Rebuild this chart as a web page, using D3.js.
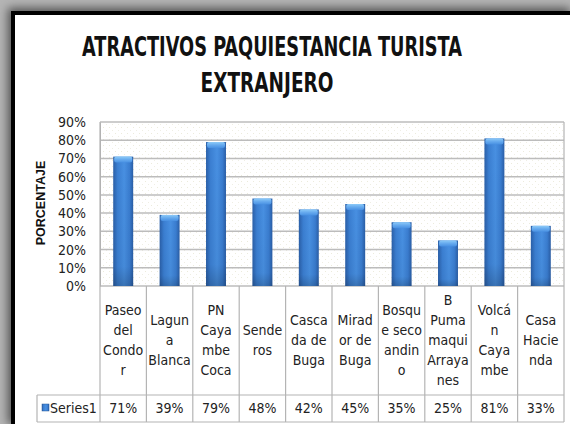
<!DOCTYPE html>
<html><head><meta charset="utf-8">
<script src="https://cdn.jsdelivr.net/npm/d3@7"></script>
<style>
html,body{margin:0;padding:0;background:#fff;overflow:hidden;}
svg{display:block;}
</style></head>
<body>
<script>
const titleLines = ["ATRACTIVOS PAQUIESTANCIA TURISTA", "EXTRANJERO"];
const yAxisTitle = "PORCENTAJE";
const seriesName = "Series1";
const categories = ["Paseo del Condor","Laguna Blanca","PN Cayambe Coca","Senderos","Cascada de Buga","Mirador de Buga","Bosque seco andino","B Pumamaqui Arrayanes","Volcán Cayambe","Casa Hacienda"];
const categoryLines = [
  ["Paseo","del","Condo","r"],
  ["Lagun","a","Blanca"],
  ["PN","Caya","mbe","Coca"],
  ["Sende","ros"],
  ["Casca","da de","Buga"],
  ["Mirad","or de","Buga"],
  ["Bosqu","e seco","andin","o"],
  ["B","Puma","maqui","Arraya","nes"],
  ["Volcá","n","Caya","mbe"],
  ["Casa","Hacie","nda"]
];
const values = [0.71,0.39,0.79,0.48,0.42,0.45,0.35,0.25,0.81,0.33];
const yTicks = [0,0.1,0.2,0.3,0.4,0.5,0.6,0.7,0.8,0.9];

const W = 570, H = 424;
const FONT = "'Liberation Sans Narrow','DejaVu Sans Condensed','Liberation Sans',sans-serif";
const plotL = 100, plotR = 564, plotT = 122, plotB = 286;
const rowTop = 395, rowBot = 422, legendL = 37;

const svg = d3.select("body").append("svg").attr("width", W).attr("height", H);
const defs = svg.append("defs");

const f = defs.append("filter").attr("id","sh").attr("x","-10%").attr("y","-10%").attr("width","120%").attr("height","120%");
f.append("feGaussianBlur").attr("stdDeviation", 5);

const pat = defs.append("pattern").attr("id","dots").attr("width",6).attr("height",6).attr("patternUnits","userSpaceOnUse");
pat.append("rect").attr("width",6).attr("height",6).attr("fill","#fff");
pat.append("rect").attr("x",1).attr("y",1).attr("width",1).attr("height",1).attr("fill","#ecebdc");
pat.append("rect").attr("x",4).attr("y",4).attr("width",1).attr("height",1).attr("fill","#efeee4");

const gH = defs.append("linearGradient").attr("id","barH").attr("x1","0").attr("x2","1").attr("y1","0").attr("y2","0");
[["0%","#2a5fa8"],["22%","#3b7fd2"],["55%","#4890e2"],["82%","#3a7dd0"],["100%","#2a5ea6"]].forEach(s=>gH.append("stop").attr("offset",s[0]).attr("stop-color",s[1]));
const gV = defs.append("linearGradient").attr("id","barV").attr("x1","0").attr("x2","0").attr("y1","0").attr("y2","1");
[["0%","#000","0"],["85%","#000","0.04"],["100%","#000","0.2"]].forEach(s=>gV.append("stop").attr("offset",s[0]).attr("stop-color",s[1]).attr("stop-opacity",s[2]));
const gCap = defs.append("linearGradient").attr("id","cap").attr("x1","0").attr("x2","0").attr("y1","0").attr("y2","1");
[["0%","#8ccaf8"],["50%","#66aaee"],["100%","#4890e2"]].forEach(s=>gCap.append("stop").attr("offset",s[0]).attr("stop-color",s[1]));

// frame
svg.append("rect").attr("width",W).attr("height",H).attr("fill","#b4b4b4");
svg.append("rect").attr("x",8).attr("y",8).attr("width",W-8).attr("height",H-8).attr("fill","#000").attr("opacity",0.55).attr("filter","url(#sh)");
svg.append("rect").attr("x",11).attr("y",11).attr("width",W-11).attr("height",H-11).attr("fill","#000");
svg.append("rect").attr("x",15).attr("y",15).attr("width",W-15).attr("height",H-15).attr("fill","#fff");

// fit a text to a target width by horizontal scaling
function fitText(sel, cx, cy, targetW, rotate) {
  const w = sel.node().getComputedTextLength();
  const s = Math.min(1, targetW / w);
  sel.attr("x", 0).attr("y", 0)
     .attr("transform", `translate(${cx},${cy})${rotate ? " rotate(-90)" : ""} scale(${s},1)`);
}

// title
const tt = svg.append("g").attr("font-family",FONT).attr("font-weight","bold").attr("font-size",26).attr("fill","#111").attr("text-anchor","middle");
fitText(tt.append("text").text(titleLines[0]), 272, 56, 380);
fitText(tt.append("text").text(titleLines[1]), 267, 92, 133);

const y = d3.scaleLinear().domain([0,0.9]).range([plotB, plotT]);
const x = d3.scaleBand().domain(categories).range([plotL, plotR]).paddingInner(0.57).paddingOuter(0.285);
const xCol = d3.scaleBand().domain(categories).range([plotL, plotR]);

svg.append("rect").attr("x",plotL).attr("y",plotT).attr("width",plotR-plotL).attr("height",plotB-plotT).attr("fill","url(#dots)");

svg.append("g").selectAll("line").data(yTicks).join("line")
  .attr("x1",plotL).attr("x2",plotR).attr("y1",d=>y(d)).attr("y2",d=>y(d))
  .attr("stroke","#bcbcbc").attr("stroke-width",1.5);

const ya = svg.append("g").attr("transform",`translate(${plotL},0)`)
  .call(d3.axisLeft(y).tickValues(yTicks).tickFormat(d3.format(".0%")).tickSize(0).tickPadding(14));
ya.select(".domain").attr("stroke","#b0b0b0");
ya.selectAll("text").attr("font-family",FONT).attr("font-size",14).attr("fill","#222");

const yt = svg.append("text").attr("text-anchor","middle")
  .attr("font-family","'Liberation Sans','DejaVu Sans',sans-serif").attr("font-weight","bold").attr("font-size",12.5)
  .attr("fill","#111").text(yAxisTitle);
fitText(yt, 45, 203, 90, true);

const bars = svg.append("g").selectAll("g").data(categories).join("g");
bars.append("rect").attr("x",d=>x(d)).attr("y",(d,i)=>y(values[i])).attr("width",x.bandwidth()).attr("height",(d,i)=>plotB-y(values[i])).attr("fill","url(#barH)");
bars.append("rect").attr("x",d=>x(d)).attr("y",(d,i)=>y(values[i])).attr("width",x.bandwidth()).attr("height",(d,i)=>plotB-y(values[i])).attr("fill","url(#barV)");
bars.append("rect").attr("x",d=>x(d)+1).attr("y",(d,i)=>y(values[i])).attr("width",x.bandwidth()-2).attr("height",6).attr("rx",2).attr("fill","url(#cap)");

const tl = svg.append("g").attr("stroke","#b4b4b4").attr("stroke-width",1.2);
tl.selectAll("line.v").data(categories).join("line").attr("class","v")
  .attr("x1",d=>xCol(d)+xCol.bandwidth()).attr("x2",d=>xCol(d)+xCol.bandwidth()).attr("y1",plotB).attr("y2",rowBot);
tl.append("line").attr("x1",plotL).attr("x2",plotL).attr("y1",plotT).attr("y2",rowBot);
tl.append("line").attr("x1",plotR).attr("x2",plotR).attr("y1",plotT).attr("y2",plotB);
tl.append("line").attr("x1",legendL).attr("x2",plotR).attr("y1",rowTop).attr("y2",rowTop);
tl.append("line").attr("x1",legendL).attr("x2",plotR).attr("y1",rowBot).attr("y2",rowBot);
tl.append("line").attr("x1",legendL).attr("x2",legendL).attr("y1",rowTop).attr("y2",rowBot);

const lh = 20, midY = (plotB+rowTop)/2;
const labs = svg.append("g").attr("font-family",FONT).attr("font-size",14).attr("fill","#222").attr("text-anchor","middle");
labs.selectAll("text").data(categories).join("text")
  .attr("x",d=>xCol(d)+xCol.bandwidth()/2)
  .each(function(d,i){
    const lines = categoryLines[i];
    const y0 = midY - (lines.length-1)*lh/2;
    d3.select(this).selectAll("tspan").data(lines).join("tspan")
      .attr("x",xCol(d)+xCol.bandwidth()/2).attr("y",(l,j)=>y0+j*lh).attr("dy","0.35em").text(l=>l);
  });

const vals = svg.append("g").attr("font-family",FONT).attr("font-size",14).attr("fill","#222").attr("text-anchor","middle");
vals.selectAll("text").data(categories).join("text")
  .attr("x",d=>xCol(d)+xCol.bandwidth()/2).attr("y",(rowTop+rowBot)/2).attr("dy","0.35em")
  .text((d,i)=>d3.format(".0%")(values[i]));

svg.append("rect").attr("x",42).attr("y",404).attr("width",7).attr("height",7).attr("fill","url(#barH)").attr("stroke","#2a5b9c").attr("stroke-width",0.5);
svg.append("text").attr("x",50).attr("y",(rowTop+rowBot)/2).attr("dy","0.35em").attr("font-family",FONT).attr("font-size",14).attr("fill","#222").text(seriesName);
</script>
</body></html>
